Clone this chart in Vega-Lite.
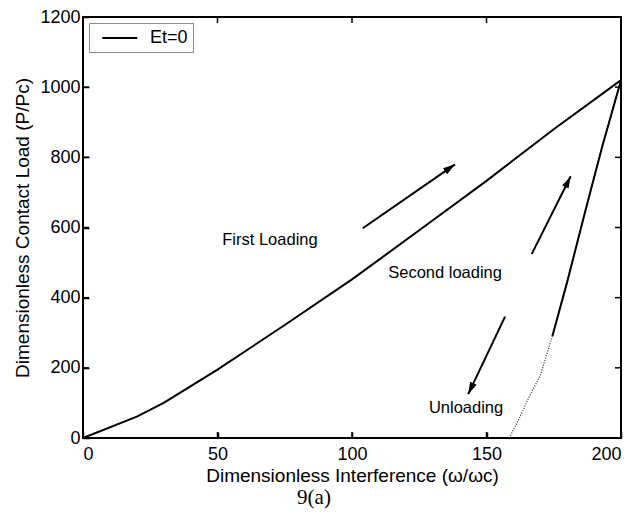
{
  "$schema": "https://vega.github.io/schema/vega-lite/v6.json",
  "width": 538,
  "height": 421,
  "autosize": {"type": "none"},
  "padding": {"left": 83, "top": 17, "right": 16, "bottom": 74},
  "background": "white",
  "config": {
    "font": "Liberation Sans",
    "view": {"stroke": "black", "strokeWidth": 2},
    "axis": {
      "domain": false,
      "grid": false,
      "labelColor": "black",
      "labelFont": "Liberation Sans",
      "labelFontSize": 18,
      "titleFont": "Liberation Sans",
      "titleFontSize": 19,
      "titleFontWeight": "normal",
      "titleColor": "black"
    }
  },
  "resolve": {"axis": {"x": "independent", "y": "independent"}},
  "title": {
    "text": "9(a)",
    "orient": "bottom",
    "font": "Liberation Serif",
    "fontSize": 21,
    "fontWeight": "normal",
    "color": "black",
    "dx": -38,
    "offset": 2
  },
  "datasets": {
    "first": [
      {"w": 0, "p": 0, "series": "Et=0"},
      {"w": 20, "p": 61, "series": "Et=0"},
      {"w": 30, "p": 100, "series": "Et=0"},
      {"w": 50, "p": 195, "series": "Et=0"},
      {"w": 75, "p": 322, "series": "Et=0"},
      {"w": 100, "p": 452, "series": "Et=0"},
      {"w": 125, "p": 592, "series": "Et=0"},
      {"w": 150, "p": 733, "series": "Et=0"},
      {"w": 175, "p": 880, "series": "Et=0"},
      {"w": 200, "p": 1020, "series": "Et=0"}
    ],
    "unload": [
      {"w": 158.5, "p": 0},
      {"w": 162.5, "p": 61},
      {"w": 166, "p": 120},
      {"w": 170, "p": 178},
      {"w": 174.5, "p": 291},
      {"w": 180, "p": 445},
      {"w": 187, "p": 655},
      {"w": 193, "p": 830},
      {"w": 200, "p": 1020}
    ],
    "second": [
      {"w": 174.5, "p": 291},
      {"w": 180, "p": 445},
      {"w": 187, "p": 655},
      {"w": 193, "p": 830},
      {"w": 200, "p": 1020}
    ],
    "arrows": [
      {"id": "a1", "w": 104.0, "p": 598, "w2": 138.3, "p2": 780},
      {"id": "a2", "w": 166.8, "p": 524, "w2": 181.3, "p2": 746},
      {"id": "a3", "w": 156.9, "p": 346, "w2": 143.2, "p2": 125}
    ],
    "notes": [
      {"w": 69.5, "p": 565, "label": "First Loading"},
      {"w": 134.6, "p": 470, "label": "Second loading"},
      {"w": 142.4, "p": 86, "label": "Unloading"}
    ],
    "xticks": [{"v": 50}, {"v": 100}, {"v": 150}],
    "yticks": [{"v": 200}, {"v": 400}, {"v": 600}, {"v": 800}, {"v": 1000}]
  },
  "layer": [
    {
      "data": {"name": "first"},
      "mark": {"type": "line", "strokeWidth": 2},
      "encoding": {
        "x": {"field": "w", "type": "quantitative", "scale": {"domain": [0, 200], "nice": false, "zero": false},
              "axis": {"orient": "bottom", "values": [0, 50, 100, 150, 200], "format": "d", "ticks": true, "tickSize": 6, "tickColor": "black", "tickWidth": 1.5, "offset": -6, "zindex": 2,
                       "title": "Dimensionless Interference (\u03c9/\u03c9c)", "labelPadding": 7, "titlePadding": 3}},
        "y": {"field": "p", "type": "quantitative", "scale": {"domain": [0, 1200], "nice": false},
              "axis": {"orient": "left", "values": [0, 200, 400, 600, 800, 1000, 1200], "format": "d", "ticks": true, "tickSize": 6, "tickColor": "black", "tickWidth": 1.5, "offset": -6, "zindex": 2,
                       "title": "Dimensionless Contact Load (P/Pc)", "labelPadding": 3, "titlePadding": 7}},
        "stroke": {"field": "series", "type": "nominal", "scale": {"range": ["black"]},
                   "legend": {"title": null, "orient": "top-left", "offset": 6, "padding": 5, "strokeColor": "#888888", "fillColor": "white",
                              "symbolType": "M-0.2,0H3.8", "symbolSize": 306, "symbolStrokeWidth": 2, "labelFontSize": 18, "labelColor": "black", "labelOffset": 36,
                              "cornerRadius": 0}}
      }
    },
    {
      "data": {"name": "xticks"},
      "mark": {"type": "point", "shape": "M0,0V-1", "size": 144, "filled": false, "stroke": "black", "strokeWidth": 1.5, "opacity": 1},
      "encoding": {
        "x": {"field": "v", "type": "quantitative", "axis": null},
        "y": {"datum": 0, "type": "quantitative", "axis": null}
      }
    },
    {
      "data": {"name": "xticks"},
      "mark": {"type": "point", "shape": "M0,0V1", "size": 144, "filled": false, "stroke": "black", "strokeWidth": 1.5, "opacity": 1},
      "encoding": {
        "x": {"field": "v", "type": "quantitative", "axis": null},
        "y": {"datum": 1200, "type": "quantitative", "axis": null}
      }
    },
    {
      "data": {"name": "yticks"},
      "mark": {"type": "point", "shape": "M0,0H1", "size": 144, "filled": false, "stroke": "black", "strokeWidth": 1.5, "opacity": 1},
      "encoding": {
        "x": {"datum": 0, "type": "quantitative", "axis": null},
        "y": {"field": "v", "type": "quantitative", "axis": null}
      }
    },
    {
      "data": {"name": "yticks"},
      "mark": {"type": "point", "shape": "M0,0H-1", "size": 144, "filled": false, "stroke": "black", "strokeWidth": 1.5, "opacity": 1},
      "encoding": {
        "x": {"datum": 200, "type": "quantitative", "axis": null},
        "y": {"field": "v", "type": "quantitative", "axis": null}
      }
    },
    {
      "data": {"name": "unload"},
      "mark": {"type": "line", "strokeWidth": 1.3, "strokeDash": [1, 1.5], "color": "#333333"},
      "encoding": {
        "x": {"field": "w", "type": "quantitative", "axis": null},
        "y": {"field": "p", "type": "quantitative", "axis": null}
      }
    },
    {
      "data": {"name": "second"},
      "mark": {"type": "line", "strokeWidth": 2, "color": "black"},
      "encoding": {
        "x": {"field": "w", "type": "quantitative", "axis": null},
        "y": {"field": "p", "type": "quantitative", "axis": null}
      }
    },
    {
      "data": {"name": "arrows"},
      "mark": {"type": "rule", "strokeWidth": 2, "color": "black"},
      "encoding": {
        "x": {"field": "w", "type": "quantitative", "axis": null},
        "y": {"field": "p", "type": "quantitative", "axis": null},
        "x2": {"field": "w2"},
        "y2": {"field": "p2"}
      }
    },
    {
      "data": {"name": "arrows"},
      "transform": [{"filter": "datum.id === 'a1'"}],
      "mark": {"type": "point", "shape": "M0,0L0.6,2L-0.6,2Z", "size": 144, "filled": true, "color": "black", "opacity": 1, "angle": 55.4},
      "encoding": {
        "x": {"field": "w2", "type": "quantitative", "axis": null},
        "y": {"field": "p2", "type": "quantitative", "axis": null}
      }
    },
    {
      "data": {"name": "arrows"},
      "transform": [{"filter": "datum.id === 'a2'"}],
      "mark": {"type": "point", "shape": "M0,0L0.6,2L-0.6,2Z", "size": 144, "filled": true, "color": "black", "opacity": 1, "angle": 26.6},
      "encoding": {
        "x": {"field": "w2", "type": "quantitative", "axis": null},
        "y": {"field": "p2", "type": "quantitative", "axis": null}
      }
    },
    {
      "data": {"name": "arrows"},
      "transform": [{"filter": "datum.id === 'a3'"}],
      "mark": {"type": "point", "shape": "M0,0L0.6,2L-0.6,2Z", "size": 144, "filled": true, "color": "black", "opacity": 1, "angle": 205.4},
      "encoding": {
        "x": {"field": "w2", "type": "quantitative", "axis": null},
        "y": {"field": "p2", "type": "quantitative", "axis": null}
      }
    },
    {
      "data": {"name": "notes"},
      "mark": {"type": "text", "font": "Liberation Sans", "fontSize": 16.5, "color": "black", "align": "center", "baseline": "middle"},
      "encoding": {
        "x": {"field": "w", "type": "quantitative", "axis": null},
        "y": {"field": "p", "type": "quantitative", "axis": null},
        "text": {"field": "label"}
      }
    }
  ]
}
